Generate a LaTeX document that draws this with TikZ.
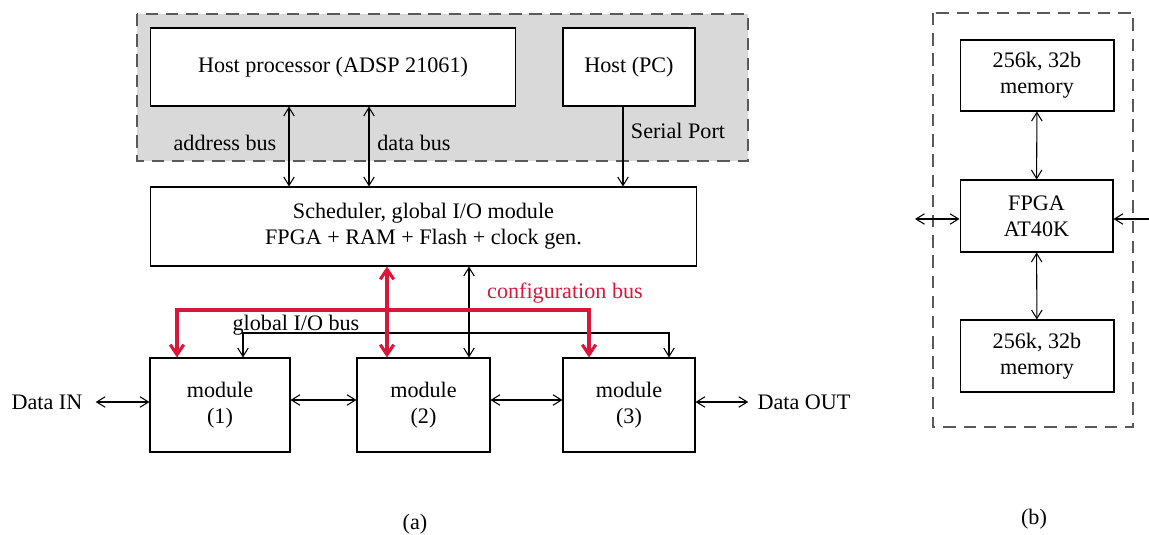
\documentclass[tikz,border=0pt]{standalone}
\usepackage{fontspec}
\setmainfont{Liberation Serif}
\usetikzlibrary{arrows.meta,positioning}
\definecolor{cfgred}{RGB}{218,22,58}
\tikzset{
    block/.style={rectangle, draw, line width=0.6pt, fill=white, align=center, inner sep=0pt},
    hostarea/.style={draw=black!65, dash pattern=on 7pt off 4.5pt, line width=0.6pt, fill=black!15},
    dashbox/.style={draw=black!65, dash pattern=on 7pt off 4.5pt, line width=0.6pt},
    link/.style={line width=0.6pt, {Straight Barb[length=1.7mm,width=2.1mm]}-{Straight Barb[length=1.7mm,width=2.1mm]}},
    onelink/.style={line width=0.6pt, -{Straight Barb[length=1.7mm,width=2.1mm]}},
    cfgbus/.style={draw=cfgred, line width=1.8pt, {Straight Barb[length=2mm,width=2.7mm]}-{Straight Barb[length=2mm,width=2.7mm]}},
    lbl/.style={inner sep=0pt}
}

\begin{document}
\begin{tikzpicture}[x=0.02cm, y=-0.02cm, font=\fontsize{12.6}{15}\selectfont]
    \useasboundingbox (0,0) rectangle (1149,534);
    \begin{scope}
        \draw[hostarea] (137,14) rectangle (748,161);
        \node[block, minimum width=7.32cm, minimum height=1.56cm] (hostp) at (333,67) {Host processor (ADSP 21061)};
        \node[block, minimum width=2.64cm, minimum height=1.56cm] (hostpc) at (629,67) {Host (PC)};
        \node[block, minimum width=10.94cm, minimum height=1.58cm] (sched) at (423.5,226.5) {Scheduler, global I/O module\\FPGA + RAM + Flash + clock gen.};
        \node[block, minimum width=2.8cm, minimum height=1.88cm] (mod1) at (220,405) {module\\(1)};
        \node[block, minimum width=2.66cm, minimum height=1.88cm] (mod2) at (423.5,405) {module\\(2)};
        \node[block, minimum width=2.64cm, minimum height=1.88cm] (mod3) at (629,405) {module\\(3)};
        \node[lbl] (abus) at (225,143) {address bus};
        \node[lbl] (dbus) at (414,143) {data bus};
        \node[lbl] (serial) at (678,131) {Serial Port};
        \node[lbl, text=cfgred] (cfglbl) at (565,293) {configuration bus};
        \node[lbl] (iolbl) at (296,325) {global I/O bus};
        \node[lbl, inner xsep=0.26cm] (din) at (47,402) {Data IN};
        \node[lbl, inner xsep=0.18cm] (dout) at (804,402) {Data OUT};
        \coordinate (ab) at (289,0);
        \coordinate (db) at (369,0);
        \coordinate (sp) at (623,0);
        \coordinate (gb) at (469,0);
        \coordinate (cm) at (387,0);
        \coordinate (cl) at (177,310);
        \coordinate (cr) at (589,310);
        \coordinate (gl) at (243,333);
        \coordinate (gr) at (669,333);
        \coordinate (iorow) at (0,400);
        \draw[link] (ab |- hostp.south) -- (ab |- sched.north);
        \draw[link] (db |- hostp.south) -- (db |- sched.north);
        \draw[onelink] (sp |- hostpc.south) -- (sp |- sched.north);
        \draw[link] (gb |- sched.south) -- (gb |- mod2.north);
        \draw[link] (gl |- mod1.north) -- (gl) -- (gr) -- (gr |- mod3.north);
        \draw[cfgbus] (cl |- mod1.north) -- (cl) -- (cr) -- (cr |- mod3.north);
        \draw[cfgbus] (cm |- sched.south) -- (cm |- mod2.north);
        \draw[link] (din.east) -- (din.east -| mod1.west);
        \draw[link] (mod1.east |- iorow) -- (mod2.west |- iorow);
        \draw[link] (mod2.east |- iorow) -- (mod3.west |- iorow);
        \draw[link] (mod3.east |- dout) -- (dout.west);
        \node (capa) at (415,524) {(a)};
    \end{scope}
    \begin{scope}
        \draw[dashbox] (933,13) rectangle (1133,427);
        \node[block, minimum width=3.08cm, minimum height=1.42cm] (mem1) at (1037,75.5) {256k, 32b\\memory};
        \node[block, minimum width=3.06cm, minimum height=1.44cm] (fpga) at (1036.5,216) {FPGA\\AT40K};
        \node[block, minimum width=3.08cm, minimum height=1.44cm] (mem2) at (1037,356) {256k, 32b\\memory};
        \coordinate (fl) at (915,219);
        \coordinate (fr) at (1149,219);
        \draw[link] (mem1) -- (fpga);
        \draw[link] (fpga) -- (mem2);
        \draw[link] (fl) -- (fl -| fpga.west);
        \draw[onelink] (fr) -- (fr -| fpga.east);
        \node (capb) at (1034,519) {(b)};
    \end{scope}
\end{tikzpicture}
\end{document}
